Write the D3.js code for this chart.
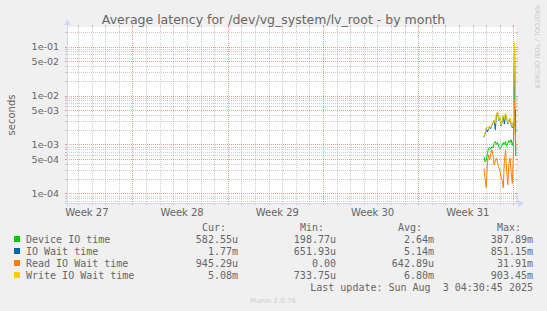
<!DOCTYPE html>
<html>
<head>
<meta charset="utf-8">
<script src="https://cdn.jsdelivr.net/npm/d3@7"></script>
<style>
  body { margin: 0; background: #f0f0f0; }
  svg { display: block; }
  text { fill: #666; }
</style>
</head>
<body>
<svg id="chart"></svg>
<script>
const width = 547;
const height = 311;
const plot = { left: 67, right: 516, top: 27, bottom: 203 };

// series, 2 hour averages from Jul 31 20:00 to Aug 3 04:00
const seriesNames = ["Device IO time", "IO Wait time", "Read IO Wait time", "Write IO Wait time"];
const seriesColors = ["#00cc00", "#0066b3", "#ff8000", "#ffcc00"];
const deviceIO = [5.6e-4, 4.4e-4, 4.8e-4, 6.5e-4, 8.2e-4, 8.8e-4, 8.0e-4, 9.0e-4, 8.5e-4, 1.05e-3,
    1.15e-3, 1.0e-3, 1.1e-3, 9.0e-4, 8.2e-4, 8.6e-4, 9.5e-4, 1.1e-3, 1.0e-3, 1.15e-3,
    9.2e-4, 1.05e-3, 1.2e-3, 1.1e-3, 1.25e-3, 9.5e-4, 1.2e-3, 4.0e-2, 5.83e-4];
const ioWait = [1.4e-3, 1.65e-3, 2.1e-3, 1.8e-3, 2.05e-3, 2.3e-3, 2.1e-3, 2.5e-3, 2.8e-3, 3.1e-3,
    2.0e-3, 4.0e-3, 4.5e-3, 3.1e-3, 3.55e-3, 2.4e-3, 2.9e-3, 3.85e-3, 2.6e-3, 4.2e-3,
    3.45e-3, 2.65e-3, 3.0e-3, 3.35e-3, 2.5e-3, 2.2e-3, 2.85e-3, 9.0e-2, 1.77e-3];
const readIO = [3.2e-4, 2.0e-4, 1.3e-4, 4.0e-4, 6.1e-4, 4.8e-4, 6.5e-4, 7.7e-4, 6.0e-4, 3.8e-4,
    4.6e-4, 5.3e-4, 4.2e-4, 3.4e-4, 3.0e-4, 2.2e-4, 1.8e-4, 1.3e-4, 4.4e-4, 7.7e-4,
    3.0e-4, 1.5e-4, 4.0e-4, 5.3e-4, 2.7e-4, 1.6e-4, 7.0e-4, 8.0e-3, 9.45e-4];
const writeIO = [1.45e-3, 1.7e-3, 2.2e-3, 2.3e-3, 2.1e-3, 2.4e-3, 2.2e-3, 2.6e-3, 2.9e-3, 3.2e-3,
    2.7e-3, 4.2e-3, 4.7e-3, 3.2e-3, 3.7e-3, 2.5e-3, 3.0e-3, 4.0e-3, 3.3e-3, 4.4e-3,
    3.6e-3, 2.75e-3, 3.1e-3, 3.5e-3, 2.6e-3, 2.3e-3, 3.0e-3, 1.2e-1, 5.08e-3];

const curValues = ["582.55u", "1.77m", "945.29u", "5.08m"];
const minValues = ["198.77u", "651.93u", "0.00", "733.75u"];
const avgValues = ["2.64m", "5.14m", "642.89u", "6.80m"];
const maxValues = ["387.89m", "851.15m", "31.91m", "903.45m"];

const yTicks = [1e-1, 5e-2, 1e-2, 5e-3, 1e-3, 5e-4, 1e-4];
const yTickLabels = ["1e-01", "5e-02", "1e-02", "5e-03", "1e-03", "5e-04", "1e-04"];
const weekLabels = ["Week 27", "Week 28", "Week 29", "Week 30", "Week 31"];

const endTime = new Date(Date.UTC(2025, 7, 3, 4, 30, 45));
const startTime = new Date(endTime.getTime() - 33 * 86400e3);
const firstPoint = Date.UTC(2025, 6, 31, 20, 0, 0);
const times = writeIO.map((_, i) => new Date(firstPoint + i * 2 * 3600e3));

const svg = d3.select("#chart")
    .attr("width", width)
    .attr("height", height);

svg.append("rect").attr("width", width).attr("height", height).attr("fill", "#f0f0f0");

const x = d3.scaleUtc()
    .domain([startTime, endTime])
    .range([plot.left, plot.right]);

const y = d3.scaleLog()
    .domain([6.33e-5, 0.253])
    .range([plot.bottom, plot.top]);

// canvas
svg.append("rect")
    .attr("x", plot.left).attr("y", plot.top)
    .attr("width", plot.right - plot.left).attr("height", plot.bottom - plot.top)
    .attr("fill", "#ffffff");

const gridMinor = "rgba(143,143,143,0.46)";
const gridMajor = "rgba(224,80,80,0.57)";

// horizontal grid
const minorY = [];
for (let e = -5; e <= 0; e++) {
    for (let k = 1; k <= 9; k++) {
        const v = k * Math.pow(10, e);
        if (v >= y.domain()[0] && v <= y.domain()[1] && !yTicks.some(t => Math.abs(t - v) / v < 1e-6)) minorY.push(v);
    }
}
const hGrid = svg.append("g").attr("shape-rendering", "crispEdges");
function hLine(v, color) {
    const yy = Math.round(y(v)) + 0.5;
    hGrid.append("line").attr("x1", plot.left - 2).attr("x2", plot.left).attr("y1", yy).attr("y2", yy).attr("stroke", color);
    hGrid.append("line").attr("x1", plot.right).attr("x2", plot.right + 2).attr("y1", yy).attr("y2", yy).attr("stroke", color);
    hGrid.append("line").attr("x1", plot.left).attr("x2", plot.right).attr("y1", yy).attr("y2", yy)
        .attr("stroke", color).attr("stroke-dasharray", "1,1");
}
minorY.forEach(v => hLine(v, gridMinor));
yTicks.forEach(v => hLine(v, gridMajor));

// vertical grid
const sundays = d3.utcSunday.range(startTime, endTime);
const days = d3.utcDay.range(startTime, endTime).filter(d => d.getUTCDay() !== 0);
function vLine(d, color) {
    const xx = Math.round(x(d)) + 0.5;
    hGrid.append("line").attr("x1", xx).attr("x2", xx).attr("y1", plot.top - 2).attr("y2", plot.top).attr("stroke", color);
    hGrid.append("line").attr("x1", xx).attr("x2", xx).attr("y1", plot.bottom).attr("y2", plot.bottom + 2).attr("stroke", color);
    hGrid.append("line").attr("x1", xx).attr("x2", xx).attr("y1", plot.top).attr("y2", plot.bottom)
        .attr("stroke", color).attr("stroke-dasharray", "1,1");
}
days.forEach(d => vLine(d, gridMinor));
sundays.forEach(d => vLine(d, gridMajor));

// axes
const axisColor = "#cfd6f8";
svg.append("line").attr("x1", plot.left - 4).attr("x2", plot.right + 4)
    .attr("y1", plot.bottom + 0.5).attr("y2", plot.bottom + 0.5).attr("stroke", axisColor);
svg.append("line").attr("x1", plot.left + 0.5).attr("x2", plot.left + 0.5)
    .attr("y1", plot.bottom + 4).attr("y2", plot.top - 4).attr("stroke", axisColor);
svg.append("path")
    .attr("d", `M${plot.right + 2},${plot.bottom - 3} L${plot.right + 8},${plot.bottom + 0.5} L${plot.right + 2},${plot.bottom + 4} Z`)
    .attr("fill", axisColor);
svg.append("path")
    .attr("d", `M${plot.left - 3},${plot.top - 2} L${plot.left + 0.5},${plot.top - 8} L${plot.left + 4},${plot.top - 2} Z`)
    .attr("fill", axisColor);

// tick labels
svg.append("g").selectAll("text")
    .data(yTicks)
    .join("text")
    .attr("x", plot.left - 8)
    .attr("y", d => y(d) + 3.5)
    .attr("text-anchor", "end")
    .attr("font-family", "DejaVu Sans")
    .attr("font-size", "9.5px")
    .text((d, i) => yTickLabels[i]);

const weekStarts = d3.utcSunday.range(d3.utcSunday.floor(startTime), endTime);
svg.append("g").selectAll("text")
    .data(weekStarts)
    .join("text")
    .attr("x", d => x(new Date(d.getTime() + 3.5 * 86400e3)) + 2)
    .attr("y", plot.bottom + 13)
    .attr("text-anchor", "middle")
    .attr("font-family", "DejaVu Sans")
    .attr("font-size", "10px")
    .text((d, i) => weekLabels[i]);

// title and labels
svg.append("text")
    .attr("x", width / 2).attr("y", 24)
    .attr("text-anchor", "middle")
    .attr("font-family", "DejaVu Sans")
    .attr("font-size", "12.5px")
    .text("Average latency for /dev/vg_system/lv_root - by month");

svg.append("text")
    .attr("transform", `translate(15,${(plot.top + plot.bottom) / 2}) rotate(-90)`)
    .attr("text-anchor", "middle")
    .attr("font-family", "DejaVu Sans")
    .attr("font-size", "10px")
    .text("seconds");

svg.append("text")
    .attr("transform", "translate(535,5) rotate(90)")
    .attr("font-family", "DejaVu Sans")
    .attr("font-size", "6.5px")
    .style("fill", "#c8c8c8")
    .text("RRDTOOL / TOBI OETIKER");

// lines
svg.append("clipPath").attr("id", "plotclip")
    .append("rect")
    .attr("x", plot.left).attr("y", plot.top)
    .attr("width", plot.right - plot.left + 1).attr("height", plot.bottom - plot.top);

const line = d3.line()
    .x((d, i) => x(times[i]))
    .y(d => y(d));

const lines = svg.append("g").attr("clip-path", "url(#plotclip)");
[deviceIO, ioWait, readIO, writeIO].forEach((s, i) => {
    lines.append("path")
        .datum(s)
        .attr("d", line)
        .attr("fill", "none")
        .attr("stroke", seriesColors[i])
        .attr("stroke-width", 1);
});

// legend
const mono = "DejaVu Sans Mono";
const colEnds = [238, 336, 434, 533];
const headers = ["Cur:", "Min:", "Avg:", "Max:"];
const legend = svg.append("g").attr("font-family", mono).attr("font-size", "10px");
headers.forEach((h, i) => {
    legend.append("text").attr("x", colEnds[i] - 12).attr("y", 231)
        .attr("text-anchor", "end").text(h);
});
const cols = [curValues, minValues, avgValues, maxValues];
seriesNames.forEach((name, r) => {
    const cy = 239 + r * 12;
    legend.append("rect").attr("x", 14).attr("y", cy - 3).attr("width", 6).attr("height", 6)
        .attr("fill", seriesColors[r]);
    legend.append("text").attr("x", 26).attr("y", cy + 3.5).text(name);
    cols.forEach((c, j) => {
        legend.append("text").attr("x", colEnds[j]).attr("y", cy + 3.5)
            .attr("text-anchor", "end").text(c[r]);
    });
});
legend.append("text").attr("x", 533).attr("y", 291)
    .attr("text-anchor", "end")
    .style("white-space", "pre")
    .text("Last update: Sun Aug  3 04:30:45 2025");

svg.append("text")
    .attr("x", 273).attr("y", 303)
    .attr("text-anchor", "middle")
    .attr("font-family", "DejaVu Sans")
    .attr("font-size", "7px")
    .style("fill", "#cccccc")
    .text("Munin 2.0.76");
</script>
</body>
</html>
